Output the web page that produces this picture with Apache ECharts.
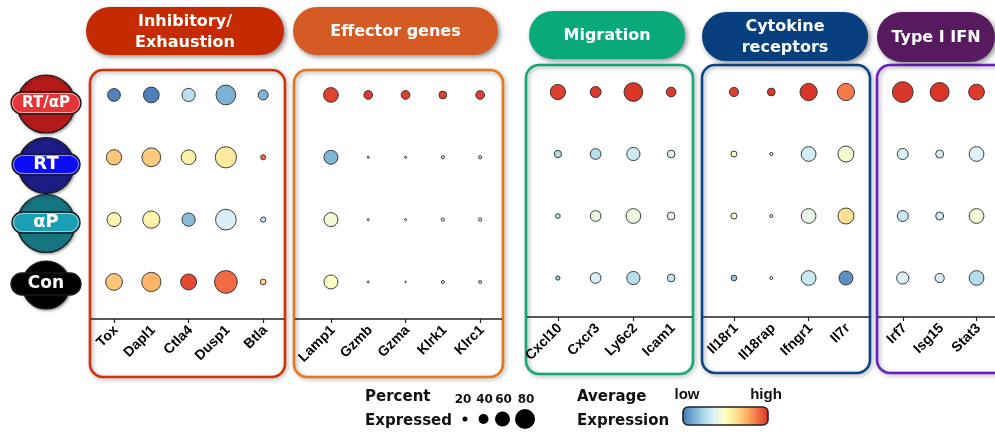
<!DOCTYPE html>
<html><head><meta charset="utf-8">
<script src="https://cdn.jsdelivr.net/npm/echarts@6/dist/echarts.min.js"></script>
<style>html,body{margin:0;padding:0;background:#fff}#c{width:995px;height:433px}</style>
</head><body><div id="c"></div>
<script>
// ---------- DATA ----------
const groups = ['RT/αP', 'RT', 'αP', 'Con'];

const genesInhib = ['Tox', 'Dapl1', 'Ctla4', 'Dusp1', 'Btla'];
const genesEffector = ['Lamp1', 'Gzmb', 'Gzma', 'Klrk1', 'Klrc1'];
const genesMigration = ['Cxcl10', 'Cxcr3', 'Ly6c2', 'Icam1'];
const genesCytokine = ['Il18r1', 'Il18rap', 'Ifngr1', 'Il7r'];
const genesIFN = ['Irf7', 'Isg15', 'Stat3'];

// percent expressed (rows = groups, cols = genes)
const pctInhib = [
  [51, 63, 53, 79, 40],
  [61, 75, 59, 85, 20],
  [56, 69, 53, 83, 21],
  [67, 77, 64, 91, 23]];
const pctEffector = [
  [59, 35, 35, 31, 35],
  [56, 8, 8, 13, 13],
  [56, 8, 8, 13, 13],
  [56, 8, 6, 12, 12]];
const pctMigration = [
  [61, 44, 75, 39],
  [29, 43, 53, 31],
  [19, 43, 59, 31],
  [17, 43, 53, 31]];
const pctCytokine = [
  [37, 31, 69, 69],
  [24, 13, 59, 64],
  [24, 13, 59, 64],
  [23, 12, 59, 56]];
const pctIFN = [
  [83, 76, 63],
  [44, 32, 59],
  [44, 32, 59],
  [49, 37, 59]];

// average expression, scaled 0 (low) .. 1 (high)
const exprInhib = [
  [0.03, 0.02, 0.29, 0.14, 0.15],
  [0.69, 0.68, 0.56, 0.59, 0.88],
  [0.54, 0.55, 0.17, 0.36, 0.30],
  [0.69, 0.73, 0.95, 0.88, 0.66]];
const exprEffector = [
  [0.96, 0.98, 0.97, 0.96, 0.97],
  [0.15, 0.30, 0.30, 0.30, 0.30],
  [0.45, 0.40, 0.40, 0.40, 0.40],
  [0.49, 0.40, 0.40, 0.40, 0.40]];
const exprMigration = [
  [0.97, 0.98, 0.99, 0.98],
  [0.27, 0.28, 0.33, 0.36],
  [0.30, 0.43, 0.43, 0.41],
  [0.22, 0.36, 0.28, 0.31]];
const exprCytokine = [
  [0.97, 0.98, 0.99, 0.85],
  [0.52, 0.40, 0.34, 0.46],
  [0.46, 0.40, 0.41, 0.62],
  [0.20, 0.40, 0.32, 0.06]];
const exprIFN = [
  [0.99, 0.99, 0.98],
  [0.36, 0.36, 0.37],
  [0.32, 0.33, 0.45],
  [0.36, 0.34, 0.27]];

const panelTitles = ['Inhibitory/\nExhaustion', 'Effector genes', 'Migration', 'Cytokine\nreceptors', 'Type I IFN'];
const sizeLegendValues = [20, 40, 60, 80];
const sizeLegendLabels = ['20', '40', '60', '80'];

// ---------- STYLE / LAYOUT ----------
const palette = ['#4575b4', '#74add1', '#abd9e9', '#e0f3f8', '#ffffbf', '#fee090', '#fdae61', '#f46d43', '#d73027'];
const sizeOf = p => p / 4;

const panelGenes = [genesInhib, genesEffector, genesMigration, genesCytokine, genesIFN];
const panelPct = [pctInhib, pctEffector, pctMigration, pctCytokine, pctIFN];
const panelExpr = [exprInhib, exprEffector, exprMigration, exprCytokine, exprIFN];

const layout = [
  { grid: { left: 95.35, width: 186.5, top: 63.8, height: 249.3 }, axisY: 319, box: [90, 70, 195, 307], boxColor: '#cf3308', hdr: [86, 7, 198, 48], hdrColor: '#c62a00' },
  { grid: { left: 312.3, width: 186.5, top: 63.8, height: 249.3 }, axisY: 319, box: [294, 70, 209, 307], boxColor: '#e8761a', hdr: [293, 7, 205, 48], hdrColor: '#d55b24' },
  { grid: { left: 539, width: 151, top: 61, height: 248 }, axisY: 317, box: [526, 65, 167, 309], boxColor: '#12a87a', hdr: [529, 11, 156, 48], hdrColor: '#0aa97a' },
  { grid: { left: 715.3, width: 149.3, top: 61, height: 248 }, axisY: 317, box: [702, 65, 168, 308], boxColor: '#0c4488', hdr: [702, 12, 166, 49], hdrColor: '#08407f' },
  { grid: { left: 884.3, width: 112.5, top: 61, height: 248 }, axisY: 317, box: [877, 65, 140, 308], boxColor: '#6a1ec8', hdr: [877, 12, 118, 50], hdrColor: '#571a5f' }
];

const badges = [
  { y: 104, r: 29, circle: '#b51a1a', pill: '#e53535', pw: 70, ph: 22, fs: 15 },
  { y: 165.5, r: 28, circle: '#1c1c85', pill: '#0c0cf5', pw: 68, ph: 21, fs: 18 },
  { y: 223.5, r: 29, circle: '#177582', pill: '#1b9fb5', pw: 68, ph: 21, fs: 18 },
  { y: 285, r: 24, circle: '#000000', pill: '#000000', pw: 70, ph: 22, fs: 17 }
];
const badgeX = 46;

const chart = echarts.init(document.getElementById('c'), null, { renderer: 'canvas' });

const grids = [], xAxes = [], yAxes = [], series = [], graphics = [];
const headFont = '"DejaVu Sans", Verdana, sans-serif';
const tickFont = 'bold 14px "Liberation Sans", Arial, sans-serif';

layout.forEach((L, i) => {
  const g = L.grid;
  grids.push({ left: g.left, width: g.width, top: g.top, height: g.height, containLabel: false });
  xAxes.push({
    type: 'category', gridIndex: i, data: panelGenes[i], offset: L.axisY - (g.top + g.height),
    axisLine: { show: false },
    axisTick: { show: true, alignWithLabel: true, length: 4, lineStyle: { color: '#222', width: 1.2 } },
    axisLabel: { show: false },
    splitLine: { show: false }
  });
  yAxes.push({ type: 'category', gridIndex: i, data: groups, inverse: true, show: false });
  const data = [];
  groups.forEach((grp, gi) => {
    panelGenes[i].forEach((gene, j) => {
      data.push([gene, grp, panelPct[i][gi][j], panelExpr[i][gi][j]]);
    });
  });
  series.push({
    type: 'scatter', xAxisIndex: i, yAxisIndex: i, data: data, z: 5,
    symbolSize: v => sizeOf(v[2]),
    itemStyle: { borderColor: '#2a2a2a', borderWidth: 0.9, opacity: 1 },
    emphasis: { disabled: true }
  });
  const [bx, by, bw, bh] = L.box;
  graphics.push({
    type: 'rect', z: 0, shape: { x: bx, y: by, width: bw, height: bh, r: 13 },
    style: { fill: 'rgba(255,255,255,0)', stroke: L.boxColor, lineWidth: 2.6, shadowBlur: 4, shadowColor: 'rgba(0,0,0,0.35)', shadowOffsetX: 1.5, shadowOffsetY: 1.5 }
  });
  graphics.push({
    type: 'line', z: 1, shape: { x1: bx + 1, y1: L.axisY, x2: bx + bw - 1, y2: L.axisY },
    style: { stroke: '#222', lineWidth: 1.4 }
  });
  const [hx, hy, hw, hh] = L.hdr;
  graphics.push({
    type: 'rect', z: 1, shape: { x: hx, y: hy, width: hw, height: hh, r: hh / 2 },
    style: { fill: L.hdrColor, shadowBlur: 5, shadowColor: 'rgba(0,0,0,0.45)', shadowOffsetX: 2, shadowOffsetY: 2 }
  });
  graphics.push({
    type: 'text', z: 2, x: hx + hw / 2, y: hy + hh / 2 + 1,
    style: { text: panelTitles[i], fill: '#fff', font: 'bold 16px ' + headFont, align: 'center', verticalAlign: 'middle', lineHeight: 21 }
  });
});

badges.forEach((b, i) => {
  graphics.push({
    type: 'circle', z: 1, shape: { cx: badgeX, cy: b.y, r: b.r },
    style: { fill: b.circle, stroke: '#1a1a1a', lineWidth: 1.2, shadowBlur: 3, shadowColor: 'rgba(0,0,0,0.4)', shadowOffsetX: 1, shadowOffsetY: 1 }
  });
  graphics.push({
    type: 'rect', z: 2, shape: { x: badgeX - b.pw / 2, y: b.y - b.ph / 2 - 1, width: b.pw, height: b.ph, r: b.ph / 2 },
    style: { fill: b.pill, stroke: '#1a1a1a', lineWidth: 1.3 }
  });
  if (i < 3) {
    graphics.push({
      type: 'rect', z: 3, shape: { x: badgeX - b.pw / 2 + 1.5, y: b.y - b.ph / 2 + 0.5, width: b.pw - 3, height: b.ph - 3, r: (b.ph - 3) / 2 },
      style: { fill: 'none', stroke: 'rgba(255,255,255,0.55)', lineWidth: 1 }
    });
  }
  graphics.push({
    type: 'text', z: 4, x: badgeX, y: b.y - 1,
    style: { text: groups[i], fill: '#fff', font: 'bold ' + b.fs + 'px ' + headFont, align: 'center', verticalAlign: 'middle' }
  });
});

// size legend
const legFont = 'bold 15px ' + headFont;
graphics.push({ type: 'text', z: 2, x: 365, y: 397, style: { text: 'Percent', fill: '#111', font: legFont, verticalAlign: 'middle' } });
graphics.push({ type: 'text', z: 2, x: 365, y: 421, style: { text: 'Expressed', fill: '#111', font: legFont, verticalAlign: 'middle' } });
const sizeLegendX = [465, 483.5, 502.5, 525];
sizeLegendValues.forEach((v, k) => {
  graphics.push({ type: 'circle', z: 2, shape: { cx: sizeLegendX[k], cy: 419, r: sizeOf(v) / 2 }, style: { fill: '#000' } });
  graphics.push({ type: 'text', z: 2, x: sizeLegendX[k] + (k === 0 ? -2 : 1), y: 400, style: { text: sizeLegendLabels[k], fill: '#111', font: 'bold 12px ' + headFont, align: 'center', verticalAlign: 'middle' } });
});
// colour legend
graphics.push({ type: 'text', z: 2, x: 577, y: 397, style: { text: 'Average', fill: '#111', font: legFont, verticalAlign: 'middle' } });
graphics.push({ type: 'text', z: 2, x: 577, y: 421, style: { text: 'Expression', fill: '#111', font: legFont, verticalAlign: 'middle' } });
graphics.push({ type: 'text', z: 2, x: 687, y: 395, style: { text: 'low', fill: '#111', font: 'bold 15px "Liberation Sans", Arial, sans-serif', align: 'center', verticalAlign: 'middle' } });
graphics.push({ type: 'text', z: 2, x: 766, y: 395, style: { text: 'high', fill: '#111', font: 'bold 15px "Liberation Sans", Arial, sans-serif', align: 'center', verticalAlign: 'middle' } });
graphics.push({
  type: 'rect', z: 2, shape: { x: 683, y: 407, width: 85, height: 18, r: 5 },
  style: {
    fill: new echarts.graphic.LinearGradient(0, 0, 1, 0, palette.map((c, k) => ({ offset: k / (palette.length - 1), color: c }))),
    stroke: '#222', lineWidth: 1.6
  }
});

const baseOption = {
  animation: false,
  backgroundColor: '#fff',
  grid: grids, xAxis: xAxes, yAxis: yAxes, series: series,
  visualMap: [{ type: 'continuous', show: false, min: 0, max: 1, dimension: 3, seriesIndex: [0, 1, 2, 3, 4], inRange: { color: palette } }],
  graphic: { elements: graphics }
};
chart.setOption(baseOption);

// rotated gene labels placed from the category axes
layout.forEach((L, i) => {
  panelGenes[i].forEach(gene => {
    const px = chart.convertToPixel({ xAxisIndex: i }, gene);
    graphics.push({
      type: 'text', z: 3, x: px + 2, y: L.axisY + 9, rotation: Math.PI / 4,
      style: { text: gene, fill: '#000', font: tickFont, align: 'right', verticalAlign: 'middle' }
    });
  });
});
chart.setOption({ graphic: { elements: graphics } });
</script></body></html>
